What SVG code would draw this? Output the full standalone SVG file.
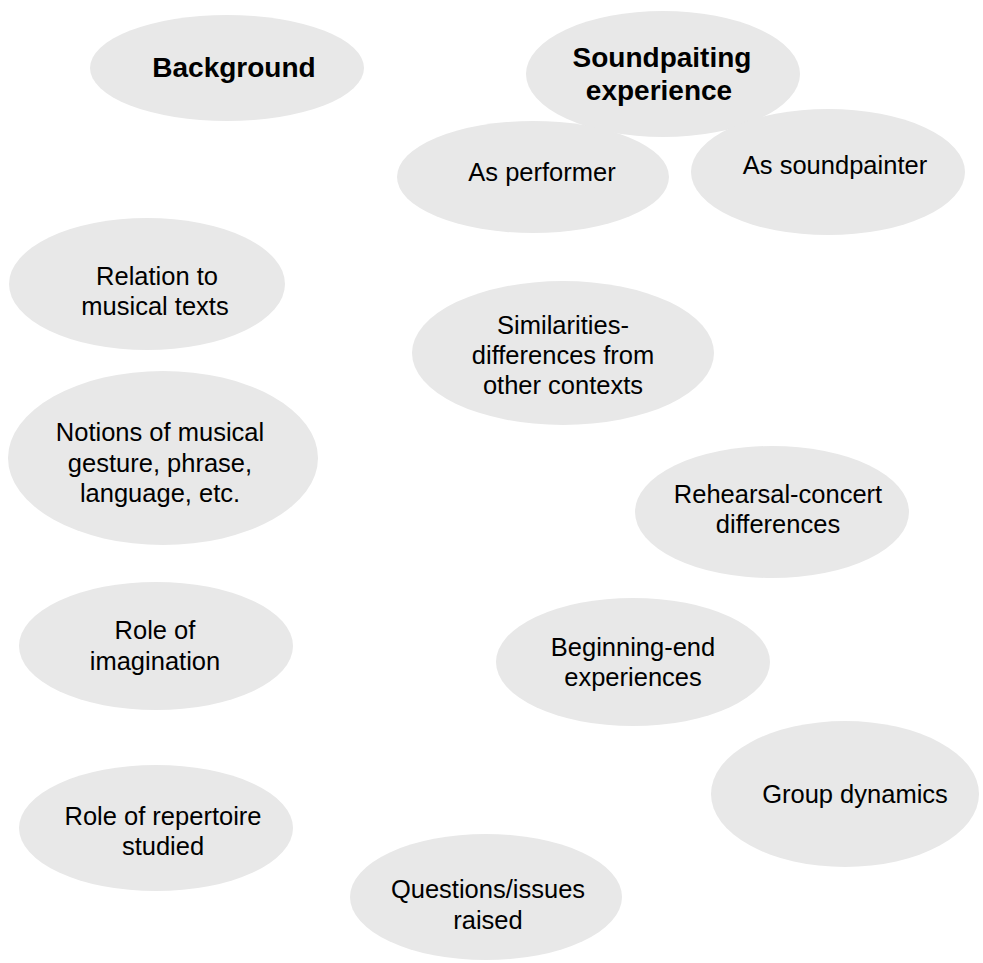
<svg xmlns="http://www.w3.org/2000/svg" width="983" height="963" viewBox="0 0 983 963">
<style>
.n{fill:#e8e8e8;stroke:none}
text{font-family:"Liberation Sans",Arial,sans-serif;font-size:25.5px;fill:#000;text-anchor:middle}
.b{font-weight:bold;font-size:28px}
</style>
<rect width="983" height="963" fill="#fff"/>
<g id="background"><ellipse class="n" cx="227" cy="68" rx="137" ry="53"/><text class="b" x="234" y="77">Background</text></g>
<g id="soundpainting"><ellipse class="n" cx="663" cy="74" rx="137" ry="63"/><text class="b" x="662" y="67">Soundpaiting</text><text class="b" x="659" y="100">experience</text></g>
<g id="performer"><ellipse class="n" cx="533" cy="177" rx="136" ry="56"/><text x="542" y="181">As performer</text></g>
<g id="soundpainter"><ellipse class="n" cx="828" cy="172" rx="137" ry="63"/><text x="835" y="174">As soundpainter</text></g>
<g id="relation"><ellipse class="n" cx="147" cy="284" rx="138" ry="66"/><text x="157" y="285">Relation to</text><text x="155" y="315">musical texts</text></g>
<g id="similarities"><ellipse class="n" cx="563" cy="353" rx="151" ry="72"/><text x="563" y="334">Similarities-</text><text x="563" y="364">differences from</text><text x="563" y="394">other contexts</text></g>
<g id="notions"><ellipse class="n" cx="163" cy="458" rx="155" ry="87"/><text x="160" y="441">Notions of musical</text><text x="160" y="472">gesture, phrase,</text><text x="160" y="502">language, etc.</text></g>
<g id="rehearsal"><ellipse class="n" cx="772" cy="512" rx="137" ry="66"/><text x="778" y="503">Rehearsal-concert</text><text x="778" y="533">differences</text></g>
<g id="imagination"><ellipse class="n" cx="156" cy="646" rx="137" ry="64"/><text x="155" y="639">Role of</text><text x="155" y="670">imagination</text></g>
<g id="beginning"><ellipse class="n" cx="633" cy="662" rx="137" ry="64"/><text x="633" y="656">Beginning-end</text><text x="633" y="686">experiences</text></g>
<g id="group"><ellipse class="n" cx="845" cy="794" rx="134" ry="73"/><text x="855" y="803">Group dynamics</text></g>
<g id="repertoire"><ellipse class="n" cx="156" cy="828" rx="137" ry="63"/><text x="163" y="825">Role of repertoire</text><text x="163" y="855">studied</text></g>
<g id="questions"><ellipse class="n" cx="486" cy="897" rx="136" ry="63"/><text x="488" y="898">Questions/issues</text><text x="488" y="929">raised</text></g>
<g id="connectors"></g>
</svg>
